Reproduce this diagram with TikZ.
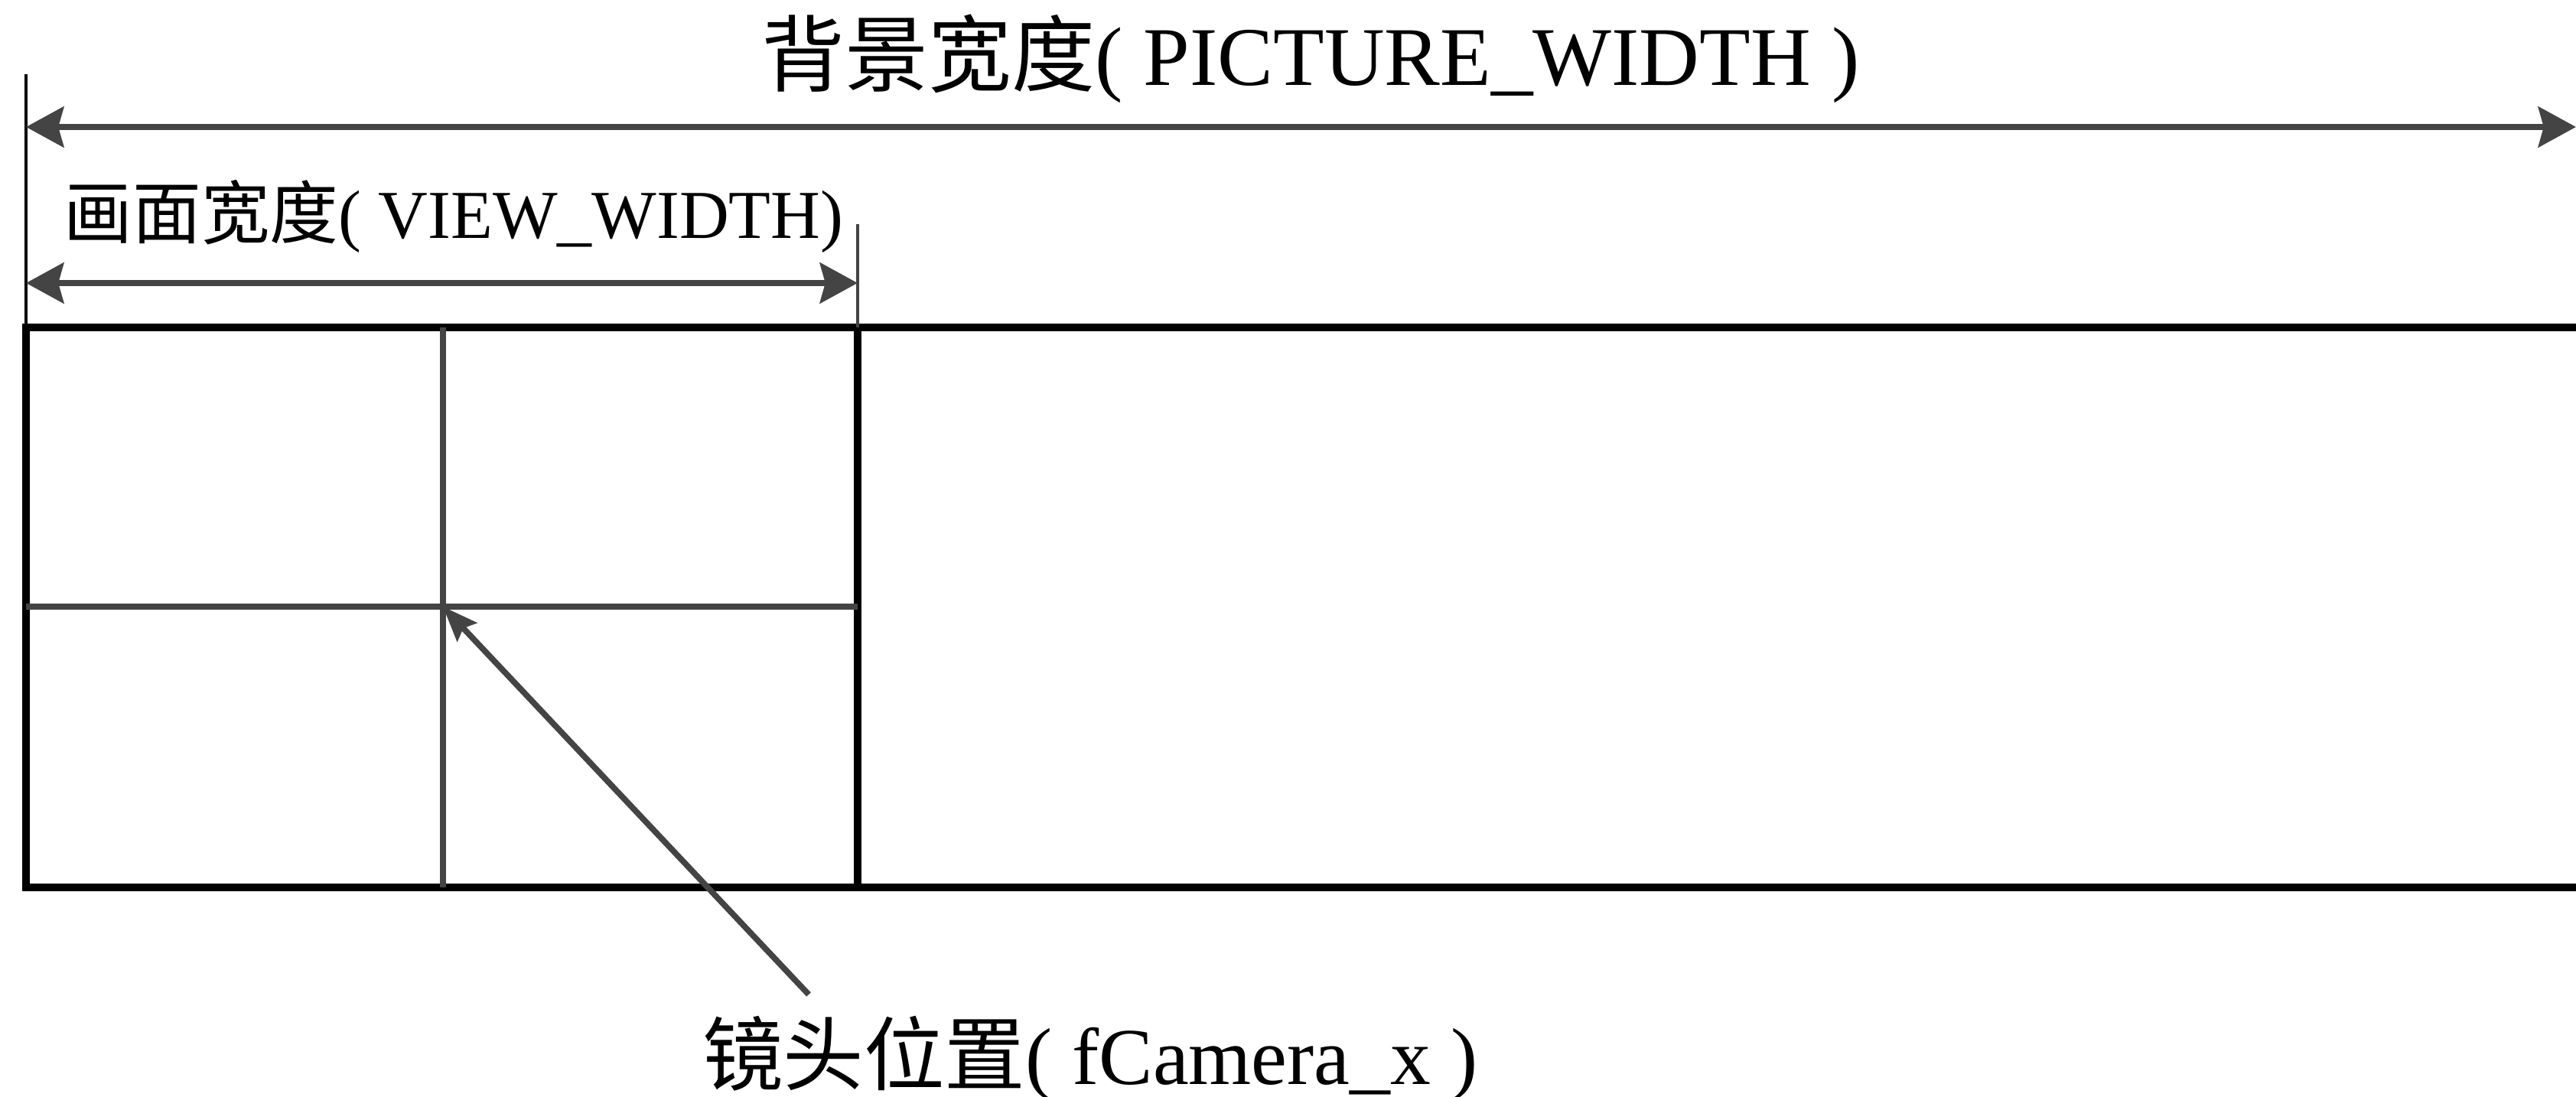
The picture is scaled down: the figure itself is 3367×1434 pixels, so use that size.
\documentclass[tikz,border=0pt]{standalone}
\usepackage{fontspec}
\setmainfont{Liberation Serif}
\newfontfamily\cjk{Noto Sans CJK SC}
\usetikzlibrary{arrows.meta}
\definecolor{dimgray}{HTML}{444444}
\begin{document}
\begin{tikzpicture}[x=0.01cm,y=-0.01cm,
  frame/.style={line width=2.8pt,black},
  grid/.style={line width=2.1pt,dimgray},
  ext/.style={line width=1.3pt},
  dimarrow/.style={line width=2.5pt,dimgray,{Stealth[length=14pt,width=15pt,inset=2pt]}-{Stealth[length=14pt,width=15pt,inset=2pt]}},
  ptr/.style={line width=2.2pt,dimgray,-{Stealth[length=13pt,width=10pt,inset=2pt]}},
  lbl/.style={inner sep=0pt,anchor=base}]
\useasboundingbox (0,0) rectangle (3367,1434);
% coordinates
\coordinate (TL) at (34,428);
\coordinate (BL) at (34,1160);
\coordinate (TR) at (3367,428);
\coordinate (BR) at (3367,1160);
\coordinate (VT) at (1121,428);
\coordinate (VB) at (1121,1160);
\coordinate (C) at (579,793);
% background frame
\draw[frame] (TR) -- (TL) -- (BL) -- (BR);
\draw[frame] (VT) -- (VB);
% inner grid
\draw[grid] (579,428) -- (579,1160);
\draw[grid] (34,793) -- (1121,793);
% extension lines
\coordinate (LT) at (34,97);
\coordinate (RT) at (1121,293);
\draw[ext,black] (LT) -- (TL);
\draw[ext,dimgray] (RT) -- (VT);
% dimension arrows
\coordinate (A1) at (34,166);
\coordinate (A2) at (3367,166);
\draw[dimarrow] (A1) -- (A2);
\coordinate (B1) at (34,370);
\coordinate (B2) at (1121,370);
\draw[dimarrow] (B1) -- (B2);
% labels
\node[lbl,font=\fontsize{31pt}{36pt}\selectfont] (title) at (1713,112) {{\cjk 背景宽度}( PICTURE\_WIDTH )};
\node[lbl,font=\fontsize{25.5pt}{30pt}\selectfont] (view) at (593,312) {{\cjk 画面宽度}( VIEW\_WIDTH)};
\node[lbl,font=\fontsize{30pt}{35pt}\selectfont] (cam) at (1425,1417) {{\cjk 镜头位置}( fCamera\_x )};
% camera pointer
\coordinate (P) at (1057,1300);
\draw[ptr] (P) -- (C);
\end{tikzpicture}
\end{document}
